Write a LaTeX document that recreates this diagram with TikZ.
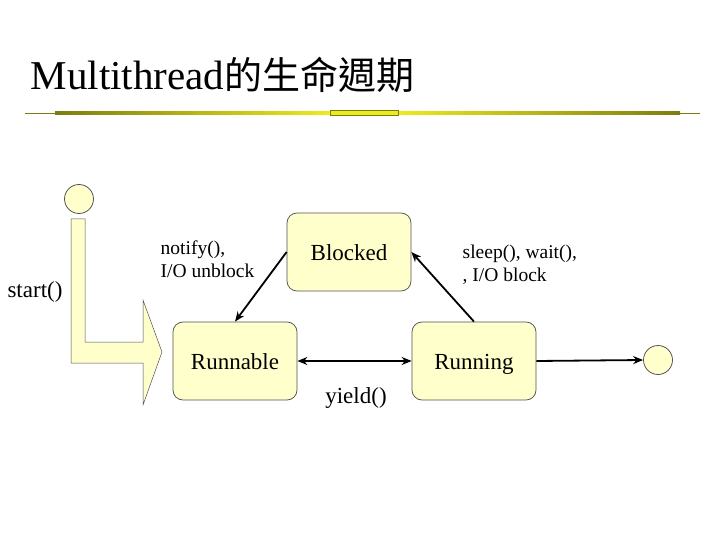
\documentclass[tikz,border=0pt]{standalone}
\usepackage{fontspec}
\setmainfont{Liberation Serif}
\newfontfamily\cjk{Noto Sans CJK TC}
\usetikzlibrary{arrows.meta}

\definecolor{stfill}{RGB}{255,255,204}
\definecolor{stedge}{RGB}{80,80,80}
\definecolor{ruleolive}{RGB}{125,125,15}
\definecolor{ruleyel}{RGB}{235,235,30}

\begin{document}
\begin{tikzpicture}[x=1pt,y=-1pt,line width=0.75pt,
  state/.style={draw=stedge,fill=stfill,rounded corners=10pt,minimum width=124pt,minimum height=78pt,
    text height=19pt,text depth=3pt,font=\fontsize{23}{26}\selectfont},
  pseudo/.style={draw=stedge,fill=stfill,circle,minimum size=29pt,inner sep=0pt},
  trans/.style={line width=1.8pt,-{Stealth[length=10pt,width=8pt]}},
  lbl/.style={font=\fontsize{19.5}{23}\selectfont,align=left}]
  \useasboundingbox (0,0) rectangle (720,540);
  % title and rule
  \node[anchor=base west,font=\fontsize{41}{46}\selectfont] (title) at (27,90)
    {Multithread{\cjk\fontsize{38}{46}\selectfont 的生命週期}};
  \draw[ruleolive,line width=0.8pt] (25,113)--(700,113);
  \shade[left color=ruleolive,right color=ruleyel] (55,111.7) rectangle (330,114.7);
  \shade[left color=ruleyel,right color=ruleolive] (398,111.7) rectangle (680,114.7);
  \filldraw[draw=ruleolive,fill=ruleyel,line width=1pt] (330,110.5) rectangle (398,116);
  % start arrow
  \filldraw[draw=stedge,fill=stfill,line width=0.5pt] (71,219)--(85,219)--(85,342)--(143,342)--(143,300)
    --(162,352)--(143,405)--(143,363)--(71,363)--cycle;
  \node[pseudo] (init) at (79,199) {};
  \node[font=\fontsize{23}{26}\selectfont] (startlbl) at (35,292) {start()};
  % states
  \node[state] (blocked) at (349,252) {Blocked};
  \node[state] (runnable) at (235,361) {Runnable};
  \node[state] (running) at (474,361) {Running};
  \node[pseudo] (final) at (658,360) {};
  % transitions
  \draw[trans] (blocked.west)--(runnable.north);
  \draw[trans] (running.north)--(blocked.east);
  \draw[trans,{Stealth[length=10pt,width=8pt]}-{Stealth[length=10pt,width=8pt]}] (runnable)--(running);
  \draw[trans] (running.east)--(final.west);
  \node[lbl,anchor=west] (unblocklbl) at (157,259) {notify(),\\I/O unblock};
  \node[lbl,anchor=west] (blocklbl) at (459,265) {sleep(), wait(),\\, I/O block};
  \node[font=\fontsize{23}{26}\selectfont] (yieldlbl) at (356,398) {yield()};
\end{tikzpicture}
\end{document}
